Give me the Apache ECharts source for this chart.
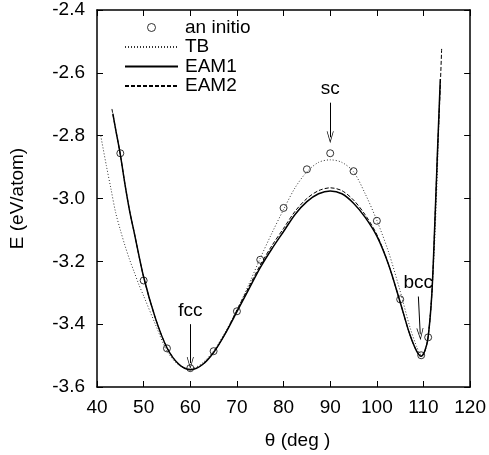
<!DOCTYPE html>
<html>
<head>
<meta charset="utf-8">
<script src="https://cdn.jsdelivr.net/npm/echarts@6/dist/echarts.min.js"></script>
<style>
  html, body { margin: 0; padding: 0; background: #fff; }
  #chart { width: 489px; height: 455px; }
</style>
</head>
<body>
<div id="chart"></div>
<script>
// ab initio points
const abTheta = [45, 50, 55, 60, 65, 70, 75, 80, 85, 90, 95, 100, 105, 109.5, 111]
const abE = [-2.856, -3.261, -3.477, -3.540, -3.486, -3.359, -3.195, -3.030, -2.907, -2.856, -2.913, -3.071, -3.321, -3.499, -3.442]

// TB curve
const tbTheta = [40.8, 42, 43, 44, 45, 46, 47, 48, 49, 50, 52.5, 55, 57.5, 60, 62.5, 65, 67.5, 70, 72.5, 75, 77.5, 80, 82.5, 85, 87.5, 90, 92.5, 95, 97.5, 100, 102.5, 105, 107, 108.5, 109.5, 110.3, 111, 111.8, 112.5, 113, 113.5]
const tbE = [-2.80, -2.895, -2.97, -3.045, -3.10, -3.15, -3.195, -3.235, -3.275, -3.31, -3.40, -3.485, -3.53, -3.542, -3.525, -3.485, -3.425, -3.355, -3.275, -3.19, -3.11, -3.035, -2.965, -2.915, -2.885, -2.877, -2.885, -2.915, -2.985, -3.07, -3.17, -3.295, -3.405, -3.47, -3.497, -3.485, -3.44, -3.30, -3.10, -2.90, -2.65]

// EAM1 curve
const eam1Theta = [43.4, 44, 45, 46, 47, 48, 50, 52.5, 55, 57.5, 60, 62.5, 65, 67.5, 70, 72.5, 75, 77.5, 80, 82.5, 85, 87.5, 90, 92.5, 95, 97.5, 100, 102.5, 105, 107, 108.5, 109.5, 110.3, 111, 111.8, 112.5, 113, 113.6]
const eam1E = [-2.73, -2.78, -2.86, -2.955, -3.04, -3.11, -3.25, -3.38, -3.475, -3.527, -3.545, -3.53, -3.49, -3.43, -3.36, -3.29, -3.22, -3.16, -3.105, -3.05, -3.01, -2.985, -2.976, -2.985, -3.015, -3.06, -3.12, -3.21, -3.33, -3.43, -3.485, -3.502, -3.485, -3.44, -3.30, -3.05, -2.85, -2.62]

// EAM2 curve
const eam2Theta = [43.2, 44, 45, 46, 47, 48, 50, 52.5, 55, 57.5, 60, 62.5, 65, 67.5, 70, 72.5, 75, 77.5, 80, 82.5, 85, 87.5, 90, 92.5, 95, 97.5, 100, 102.5, 105, 107, 108.5, 109.5, 110.3, 111, 111.8, 112.5, 113, 113.5, 113.9]
const eam2E = [-2.715, -2.78, -2.86, -2.955, -3.04, -3.11, -3.25, -3.38, -3.475, -3.527, -3.545, -3.53, -3.49, -3.43, -3.355, -3.283, -3.212, -3.15, -3.095, -3.04, -3.0, -2.975, -2.966, -2.975, -3.005, -3.052, -3.115, -3.21, -3.33, -3.43, -3.485, -3.502, -3.485, -3.44, -3.30, -3.05, -2.85, -2.68, -2.52]

// structure annotations (label, arrow start, arrow end)
const markNames = ['fcc', 'sc', 'bcc']
const markFrom = [[60, -3.40], [90, -2.695], [108.9, -3.312]]
const markTo = [[60, -3.524], [90, -2.805], [109.3, -3.432]]

const zip = (xs, ys) => xs.map((x, i) => [x, ys[i]])

const FONT = 'Liberation Sans, Arial, sans-serif'
const FS = 19
const chart = echarts.init(document.getElementById('chart'))

const axisCommon = {
  type: 'value',
  axisLine: { show: true, onZero: false, lineStyle: { color: '#000', width: 1.5 } },
  axisTick: { show: true, inside: true, length: 6, lineStyle: { color: '#000', width: 1 } },
  splitLine: { show: false },
}

const hideDot = { itemStyle: { opacity: 0 } }

chart.setOption({
  animation: false,
  color: ['#000'],
  grid: { left: 97, right: 16, top: 10, bottom: 66 },
  legend: {
    orient: 'vertical',
    left: 119,
    top: 13,
    itemWidth: 53,
    itemHeight: 8,
    itemGap: 0.5,
    textStyle: { fontFamily: FONT, fontSize: FS, lineHeight: 19, color: '#000', padding: [0, 0, 0, 2] },
    data: [
      { name: 'an initio', icon: 'circle', itemStyle: { color: 'rgba(0,0,0,0)', borderColor: '#000', borderWidth: 1 } },
      { name: 'TB', ...hideDot },
      { name: 'EAM1', ...hideDot },
      { name: 'EAM2', ...hideDot },
    ],
  },
  xAxis: [
    {
      ...axisCommon,
      min: 40, max: 120, interval: 10,
      name: 'θ (deg )',
      nameLocation: 'middle',
      nameGap: 44,
      nameTextStyle: { fontFamily: FONT, fontSize: FS, color: '#000', padding: [0, 0, 0, 28] },
      axisLabel: { fontFamily: FONT, fontSize: FS, color: '#000', margin: 11 },
    },
    {
      ...axisCommon,
      position: 'top',
      min: 40, max: 120, interval: 10,
      axisLabel: { show: false },
    },
  ],
  yAxis: [
    {
      ...axisCommon,
      min: -3.6, max: -2.4, interval: 0.2,
      name: 'E (eV/atom)',
      nameLocation: 'middle',
      nameGap: 70,
      nameTextStyle: { fontFamily: FONT, fontSize: FS, color: '#000' },
      axisLabel: { fontFamily: FONT, fontSize: FS, color: '#000', margin: 12, formatter: v => v.toFixed(1) },
    },
    {
      ...axisCommon,
      position: 'right',
      min: -3.6, max: -2.4, interval: 0.2,
      axisLabel: { show: false },
    },
  ],
  series: [
    {
      name: 'TB',
      type: 'line',
      data: zip(tbTheta, tbE),
      smooth: 0.3,
      symbol: 'none',
      itemStyle: { color: '#000' },
      lineStyle: { color: '#333', width: 1, type: [1, 2] },
      z: 2,
    },
    {
      name: 'EAM1',
      type: 'line',
      data: zip(eam1Theta, eam1E),
      smooth: 0.3,
      symbol: 'none',
      itemStyle: { color: '#000' },
      lineStyle: { color: '#000', width: 1.5 },
      z: 3,
    },
    {
      name: 'EAM2',
      type: 'line',
      data: zip(eam2Theta, eam2E),
      smooth: 0.3,
      symbol: 'none',
      itemStyle: { color: '#000' },
      lineStyle: { color: '#000', width: 1, type: [4, 2] },
      z: 3,
    },
    {
      name: 'an initio',
      type: 'scatter',
      data: zip(abTheta, abE),
      symbol: 'circle',
      symbolSize: 7,
      itemStyle: { color: 'rgba(0,0,0,0)', borderColor: '#000', borderWidth: 1 },
      z: 4,
      markLine: {
        silent: true,
        symbol: ['none', 'path://M0,10 L5,0 L10,10 L9,10 L5,2 L1,10 Z'],
        symbolSize: [7, 12],
        lineStyle: { color: '#000', width: 1, type: 'solid' },
        label: {
          show: true,
          position: 'start',
          distance: 4,
          fontFamily: FONT,
          fontSize: FS,
          color: '#000',
          formatter: p => p.name,
        },
        data: markNames.map((name, i) => [
          { name, coord: markFrom[i] },
          { coord: markTo[i] },
        ]),
      },
    },
  ],
})
</script>
</body>
</html>
